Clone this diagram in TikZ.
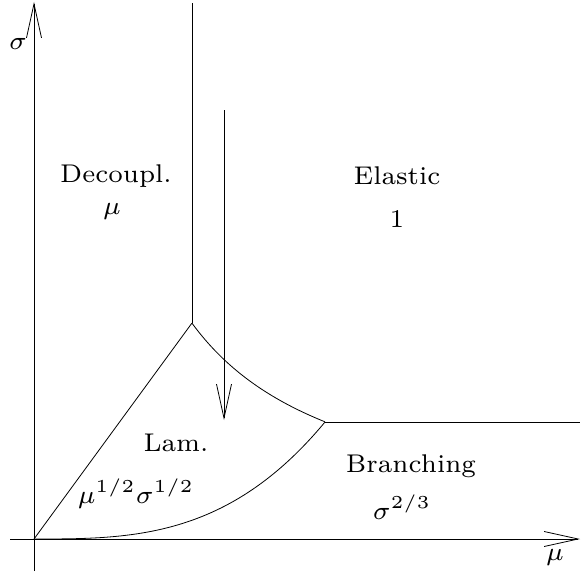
\documentclass[tikz,border=0pt]{standalone}
\usetikzlibrary{arrows.meta}
\begin{document}
\begin{tikzpicture}[x=1pt,y=-1pt,
  ln/.style={line width=0.8pt,black},
  barb/.style={-{Straight Barb[length=34pt,width=15pt,line width=0.8pt]}},
  lbl/.style={font=\scriptsize,scale=3.66,inner sep=0pt}]
\useasboundingbox (0,0) rectangle (581,578);
% key points
\coordinate (O) at (34,539);
\coordinate (ybot) at (34,571);
\coordinate (ytop) at (34,2);
\coordinate (xleft) at (10,539);
\coordinate (xright) at (580,539);
\coordinate (P) at (192,323);
\coordinate (Ptop) at (192,3);
\coordinate (Q) at (325,422);
\coordinate (Qright) at (580,422);
\coordinate (Astart) at (224,110);
\coordinate (Aend) at (224,420);
% axes
\draw[ln,barb] (ybot) -- (ytop);
\draw[ln,barb] (xleft) -- (xright);
% boundaries
\draw[ln] (O) -- (P);
\draw[ln] (P) -- (Ptop);
\draw[ln] (Q) -- (Qright);
\draw[ln] (O) .. controls (131,539) and (228,539) .. (Q);
\draw[ln] plot[domain=158:291,samples=60,smooth] ({34+\x},{539-(341/\x)*100});
% arrow
\draw[ln,barb] (Astart) -- (Aend);
% labels
\node[lbl] (sig) at (18,44) {$\sigma$};
\node[lbl] (mu) at (555,557) {$\mu$};
\node[lbl] (dec) at (116,176) {Decoupl.};
\node[lbl] (decm) at (112,211) {$\mu$};
\node[lbl] (ela) at (397,176) {Elastic};
\node[lbl] (elam) at (397,219) {1};
\node[lbl] (lam) at (176,443) {Lam.};
\node[lbl] (lamm) at (136,494) {$\mu^{1/2}\sigma^{1/2}$};
\node[lbl] (bra) at (411,466) {Branching};
\node[lbl] (bram) at (402,507) {$\sigma^{2/3}$};
\end{tikzpicture}
\end{document}
